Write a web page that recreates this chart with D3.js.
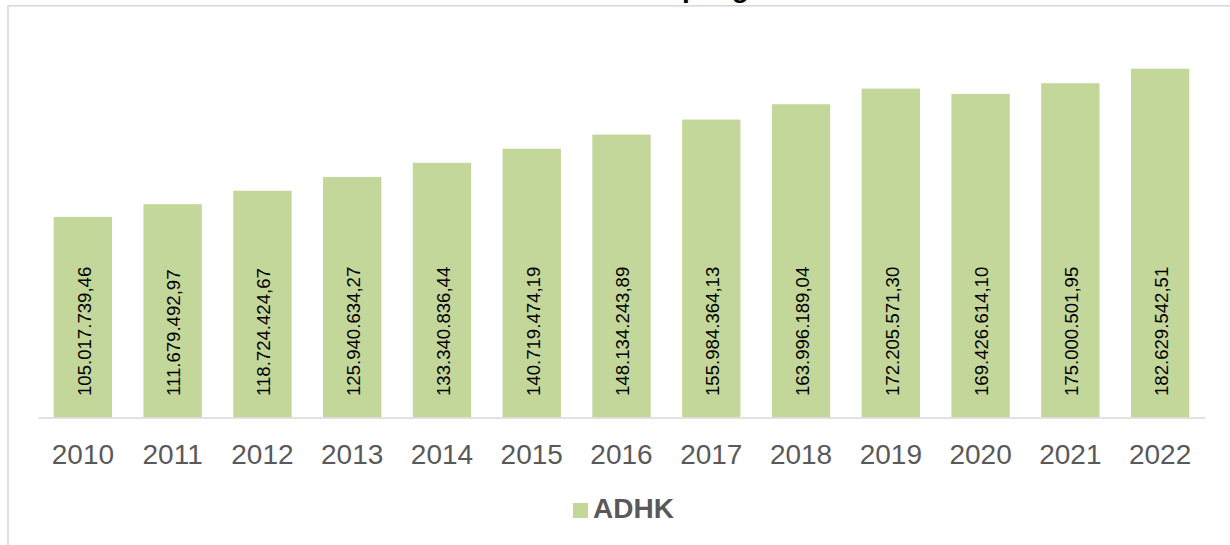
<!DOCTYPE html>
<html>
<head>
<meta charset="utf-8">
<script src="https://cdn.jsdelivr.net/npm/d3@7"></script>
<style>
  html, body { margin: 0; padding: 0; background: #ffffff; }
  svg { display: block; font-family: "Liberation Sans", Arial, sans-serif; }
</style>
</head>
<body>
<svg id="chart" width="1230" height="545"></svg>
<script>
// PDRB ADHK per year (rupiah)
const years = ["2010", "2011", "2012", "2013", "2014", "2015", "2016",
               "2017", "2018", "2019", "2020", "2021", "2022"];
const adhk = [105017739.46, 111679492.97, 118724424.67, 125940634.27,
              133340836.44, 140719474.19, 148134243.89, 155984364.13,
              163996189.04, 172205571.30, 169426614.10, 175000501.95,
              182629542.51];
const seriesName = "ADHK";
const titleText = "PDRB ADHK Kota Kupang";
const yDomain = [0, 200000000];

const W = 1230, H = 545;
const plot = { left: 38, right: 1205, top: 35.5, bottom: 417.5 };
const barColor = "#c4d79b";
const textGray = "#595959";
const lineGray = "#d9d9d9";

const idLocale = d3.formatLocale({ decimal: ",", thousands: ".", grouping: [3], currency: ["", ""] });
const fmt = idLocale.format(",.2f");

const svg = d3.select("#chart");

// chart frame (only the top and left edges fall inside the view)
svg.append("rect")
  .attr("x", 8).attr("y", 5.8)
  .attr("width", W + 20).attr("height", H + 20)
  .attr("fill", "#ffffff")
  .attr("stroke", lineGray).attr("stroke-width", 1.6);

const x = d3.scaleBand()
  .domain(years)
  .range([plot.left, plot.right])
  .paddingInner(0.35)
  .paddingOuter(0.175);

const y = d3.scaleLinear()
  .domain(yDomain)
  .range([plot.bottom, plot.top]);

const data = years.map((yr, i) => ({ year: yr, value: adhk[i] }));

// bars
svg.append("g").selectAll("rect")
  .data(data)
  .join("rect")
  .attr("x", d => x(d.year))
  .attr("y", d => y(d.value))
  .attr("width", x.bandwidth())
  .attr("height", d => y(0) - y(d.value))
  .attr("fill", barColor);

// category axis
const xAxis = svg.append("g")
  .attr("transform", `translate(0,${plot.bottom})`)
  .call(d3.axisBottom(x).tickSize(0).tickPadding(0));
xAxis.select(".domain")
  .attr("stroke", lineGray).attr("stroke-width", 1.6);
xAxis.selectAll(".tick text")
  .attr("fill", textGray)
  .attr("font-size", "28px")
  .attr("font-family", "Liberation Sans, Arial, sans-serif")
  .attr("dy", 0)
  .attr("y", 463.5 - plot.bottom);

// value labels, rotated, anchored near the base of each bar
svg.append("g").selectAll("text")
  .data(data)
  .join("text")
  .attr("transform", d => `translate(${x(d.year) + x.bandwidth() / 2},${y(0) - 21.5}) rotate(-90)`)
  .attr("dy", "0.42em")
  .attr("font-size", "18.6px")
  .attr("fill", "#000000")
  .attr("text-anchor", "start")
  .text(d => fmt(d.value));

// legend
const legend = svg.append("g");
legend.append("rect")
  .attr("x", 573).attr("y", 503)
  .attr("width", 15).attr("height", 15)
  .attr("fill", barColor);
legend.append("text")
  .attr("x", 593).attr("y", 518)
  .attr("font-size", "28px")
  .attr("font-weight", "bold")
  .attr("fill", textGray)
  .text(seriesName);

// title, mostly above the top edge
const title = svg.append("text")
  .attr("y", -3.2)
  .attr("font-size", "28px")
  .attr("font-weight", "bold")
  .attr("fill", "#000000")
  .text(titleText);
const pIdx = titleText.indexOf("p");
const offset = pIdx > 0 ? title.node().getSubStringLength(0, pIdx) : 0;
title.attr("x", 682 - offset);
</script>
</body>
</html>
